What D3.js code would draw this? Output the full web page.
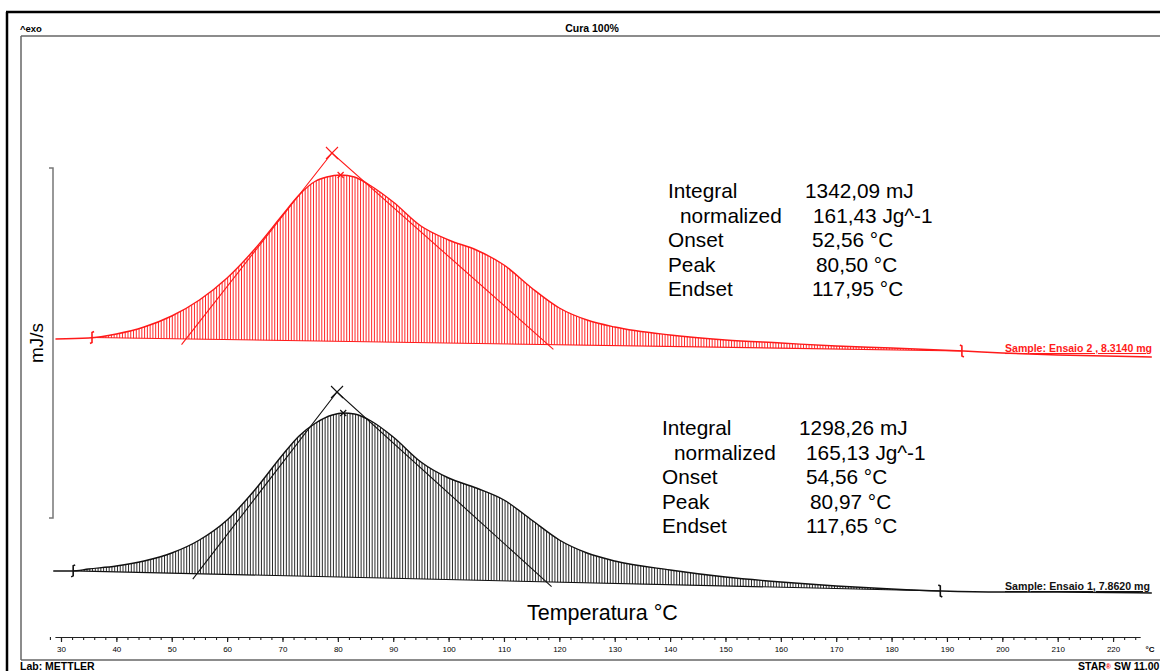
<!DOCTYPE html>
<html><head><meta charset="utf-8">
<script src="https://cdn.jsdelivr.net/npm/d3@7"></script>
<style>
html,body{margin:0;padding:0;background:#fff;}
svg{display:block;}
text{font-family:"Liberation Sans",Arial,sans-serif;}
</style></head><body>
<svg id="chart" width="1160" height="671"></svg>
<script>
// ---- DSC runs: temperature (°C) and heat flow (mJ/s, curves drawn with their own offsets)
const tempEnsaio2 = [29,35,40,45,50,55,60,65,70,73,76,78,80.5,83,86,90,95,100,105,110,115,120,125,130,140,150,160,170,180,193,200,210,227];
const flowEnsaio2 = [3.58,3.60,3.68,3.82,4.04,4.36,4.80,5.38,6.06,6.46,6.74,6.82,6.86,6.82,6.64,6.32,5.84,5.56,5.36,5.06,4.60,4.20,3.96,3.82,3.66,3.56,3.50,3.44,3.40,3.34,3.30,3.26,3.22];

const tempEnsaio1 = [28.6,32,35,40,45,50,55,60,65,70,73,76,79,80.97,83,86,90,95,100,105,110,115,120,125,130,140,150,160,170,180,189,200,210,227];
const flowEnsaio1 = [-1.06,-1.06,-1.02,-0.96,-0.86,-0.70,-0.44,-0.04,0.56,1.26,1.64,1.90,2.06,2.10,2.08,1.94,1.62,1.12,0.80,0.60,0.36,-0.04,-0.44,-0.70,-0.86,-1.04,-1.18,-1.28,-1.36,-1.42,-1.46,-1.48,-1.48,-1.50];

// integration limits (°C)
const limitsEnsaio2 = [35.6, 192.7];
const limitsEnsaio1 = [32.2, 188.8];

// evaluation results
const onsetEnsaio2 = 52.56, peakEnsaio2 = 80.50, endsetEnsaio2 = 117.95;
const onsetEnsaio1 = 54.56, peakEnsaio1 = 80.97, endsetEnsaio1 = 117.65;
// tangent intersection points [°C, mJ/s]
const apexEnsaio2 = [78.94, 7.30];
const apexEnsaio1 = [79.85, 2.52];

const resultLabels = ["Integral", "normalized", "Onset", "Peak", "Endset"];
const resultValuesEnsaio2 = ["1342,09 mJ", "161,43 Jg^-1", "52,56 °C", "80,50 °C", "117,95 °C"];
const resultValuesEnsaio1 = ["1298,26 mJ", "165,13 Jg^-1", "54,56 °C", "80,97 °C", "117,65 °C"];

const sampleEnsaio2 = "Sample: Ensaio 2 , 8.3140 mg";
const sampleEnsaio1 = "Sample: Ensaio 1, 7.8620 mg";

const majorTicks = d3.range(30, 221, 10);
const minorTicks = d3.range(28, 225, 2);

// ---- scales
const x = d3.scaleLinear().domain([28.9, 224.9]).range([54.9, 1140.2]);
const y = d3.scaleLinear().domain([0, 7]).range([518, 168]);

const svg = d3.select("#chart");

// ---- page frame
const frame = svg.append("g");
frame.append("line").attr("x1", 7).attr("y1", 12).attr("x2", 7).attr("y2", 671).attr("stroke", "#000").attr("stroke-width", 2.5);
frame.append("line").attr("x1", 6).attr("y1", 12).attr("x2", 1160).attr("y2", 12).attr("stroke", "#000").attr("stroke-width", 2.5);
frame.append("line").attr("x1", 21).attr("y1", 36).attr("x2", 1160).attr("y2", 36).attr("stroke", "#666").attr("stroke-width", 1.5);
frame.append("line").attr("x1", 21).attr("y1", 36).attr("x2", 21).attr("y2", 660).attr("stroke", "#666").attr("stroke-width", 1.5);
frame.append("line").attr("x1", 21).attr("y1", 660).attr("x2", 1160).attr("y2", 660).attr("stroke", "#666").attr("stroke-width", 1.5);

svg.append("text").attr("x", 20).attr("y", 32).attr("font-size", 9.5).attr("font-weight", "bold").text("^exo");
svg.append("text").attr("x", 592).attr("y", 32).attr("text-anchor", "middle").attr("font-size", 10.5).attr("font-weight", "bold").text("Cura 100%");
svg.append("text").attr("x", 20).attr("y", 670).attr("font-size", 10.5).attr("font-weight", "bold").text("Lab: METTLER");
const star = svg.append("text").attr("x", 1078).attr("y", 670).attr("font-size", 10.5).attr("font-weight", "bold");
star.append("tspan").text("STAR");
star.append("tspan").attr("fill", "#e00").attr("font-size", 7).attr("dy", -1).text("®");
star.append("tspan").attr("dy", 1).text(" SW 11.00");

// ---- y scale bar
svg.append("path")
  .attr("d", `M49,${y(7)} H53 V${y(0)} H49`)
  .attr("fill", "none").attr("stroke", "#777").attr("stroke-width", 1.5);
svg.append("text").attr("transform", `translate(43,${(y(0) + y(7)) / 2}) rotate(-90)`)
  .attr("text-anchor", "middle").attr("font-size", 19).text("mJ/s");

// ---- x axis
const axisY = 637;
svg.append("g").attr("transform", `translate(0,${axisY})`)
  .call(d3.axisBottom(x).tickValues(minorTicks).tickSize(3).tickFormat(""))
  .call(g => g.select(".domain").remove())
  .call(g => g.selectAll("line").attr("stroke", "#222").attr("stroke-width", 1.1));
const ax = svg.append("g").attr("transform", `translate(0,${axisY})`)
  .call(d3.axisBottom(x).tickValues(majorTicks).tickSize(5).tickPadding(4).tickSizeOuter(0));
ax.select(".domain").attr("stroke", "#222").attr("stroke-width", 1.2);
ax.selectAll("line").attr("stroke", "#222").attr("stroke-width", 1.2);
ax.selectAll("text").attr("font-family", "DejaVu Sans, sans-serif").attr("font-size", 8).attr("fill", "#000");
svg.append("text").attr("x", 1150).attr("y", axisY + 15).attr("text-anchor", "middle")
  .attr("font-family", "DejaVu Sans, sans-serif").attr("font-size", 8).attr("font-weight", "bold").text("°C");

svg.append("text").attr("x", 527).attr("y", 620).attr("font-size", 21.5).text("Temperatura °C");

// ---- one DSC run with its evaluation
function drawRun(opts) {
  const data = opts.temps.map((t, i) => ({t, v: opts.flows[i]}));
  const interp = t => {
    const i = d3.bisector(d => d.t).right(data, t);
    const a = data[Math.max(0, i - 1)], b = data[Math.min(data.length - 1, i)];
    if (a === b) return a.v;
    return a.v + (b.v - a.v) * (t - a.t) / (b.t - a.t);
  };
  const [t0, t1] = opts.limits;
  const v0 = interp(t0), v1 = interp(t1);
  const base = t => v0 + (v1 - v0) * (t - t0) / (t1 - t0);

  const g = svg.append("g");
  const clipId = "clip-" + opts.id;
  g.append("clipPath").attr("id", clipId).append("path")
    .attr("d", d3.area().curve(d3.curveMonotoneX)
      .x(d => x(d.t)).y0(d => y(base(d.t))).y1(d => y(d.v))(data));

  // hatching between curve and baseline
  const hatch = d3.range(t0, t1, 0.5);
  g.append("g").attr("clip-path", `url(#${clipId})`)
    .selectAll("line").data(hatch).join("line")
    .attr("x1", d => x(d)).attr("x2", d => x(d))
    .attr("y1", d => y(base(d)) + 2).attr("y2", 40)
    .attr("stroke", opts.hatch).attr("stroke-width", 1);

  // baseline
  g.append("line").attr("x1", x(t0)).attr("y1", y(v0)).attr("x2", x(t1)).attr("y2", y(v1))
    .attr("stroke", opts.color).attr("stroke-width", 1.1);

  // signal
  g.append("path").datum(data)
    .attr("d", d3.line().curve(d3.curveMonotoneX).x(d => x(d.t)).y(d => y(d.v)))
    .attr("fill", "none").attr("stroke", opts.color).attr("stroke-width", 1.4);

  // tangents for onset / endset
  const on = [opts.onset, base(opts.onset)], en = [opts.endset, base(opts.endset)], ap = opts.apex;
  const ext = (p, q, k) => [p[0] + (p[0] - q[0]) * k, p[1] + (p[1] - q[1]) * k];
  const onE = ext(on, ap, 0.03), enE = ext(en, ap, 0.025);
  g.append("path")
    .attr("d", `M${x(onE[0])},${y(onE[1])} L${x(ap[0])},${y(ap[1])} L${x(enE[0])},${y(enE[1])}`)
    .attr("fill", "none").attr("stroke", opts.color).attr("stroke-width", 1.1);
  const ax0 = x(ap[0]), ay0 = y(ap[1]);
  g.append("path").attr("d", `M${ax0 - 6},${ay0 - 6} L${ax0 + 6},${ay0 + 6} M${ax0 + 6},${ay0 - 6} L${ax0 - 6},${ay0 + 6}`)
    .attr("stroke", opts.color).attr("stroke-width", 1.1);

  // peak marker
  const px = x(opts.peak), py = y(interp(opts.peak));
  g.append("path").attr("d", `M${px - 3},${py - 3} L${px + 3},${py + 3} M${px + 3},${py - 3} L${px - 3},${py + 3}`)
    .attr("stroke", opts.color).attr("stroke-width", 1.2);

  // integration limit markers
  [[t0, v0, 1], [t1, v1, -1]].forEach(([t, v, s]) => {
    const mx = x(t), my = y(v);
    g.append("path")
      .attr("d", `M${mx + 2 * s},${my - 6} L${mx},${my - 5} L${mx},${my + 5} L${mx - 2 * s},${my + 6}`)
      .attr("fill", "none").attr("stroke", opts.color).attr("stroke-width", 1.6);
  });

  // sample label
  svg.append("text").attr("x", 1005).attr("y", opts.labelY)
    .attr("font-size", 10.5).attr("font-weight", "bold").attr("fill", opts.color)
    .attr("text-decoration", "underline")
    .attr("textLength", opts.labelW).attr("lengthAdjust", "spacingAndGlyphs")
    .text(opts.sample);

  // result block
  const tb = svg.append("g").attr("font-size", 20.8).attr("fill", "#000");
  resultLabels.forEach((lab, i) => {
    tb.append("text").attr("x", opts.textX + (i === 1 ? 12 : 0)).attr("y", opts.textY + i * 24.6).text(lab);
    tb.append("text").attr("x", opts.valueX[i]).attr("y", opts.textY + i * 24.6).text(opts.values[i]);
  });
}

drawRun({
  id: "e2", temps: tempEnsaio2, flows: flowEnsaio2, limits: limitsEnsaio2,
  onset: onsetEnsaio2, peak: peakEnsaio2, endset: endsetEnsaio2, apex: apexEnsaio2,
  color: "#ff1a1a", hatch: "#ff2a2a", sample: sampleEnsaio2, labelY: 352, labelW: 147,
  values: resultValuesEnsaio2, textX: 668, textY: 198, valueX: [805, 813, 812, 816, 812]
});
drawRun({
  id: "e1", temps: tempEnsaio1, flows: flowEnsaio1, limits: limitsEnsaio1,
  onset: onsetEnsaio1, peak: peakEnsaio1, endset: endsetEnsaio1, apex: apexEnsaio1,
  color: "#111", hatch: "#2a2a2a", sample: sampleEnsaio1, labelY: 590, labelW: 145,
  values: resultValuesEnsaio1, textX: 662, textY: 435, valueX: [799, 806, 806, 810, 806]
});
</script>
</body></html>
